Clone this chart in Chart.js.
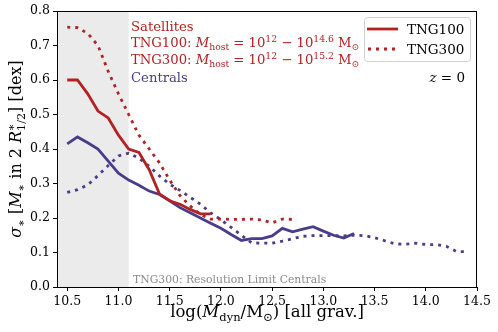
<!DOCTYPE html>
<html>
<head>
<meta charset="utf-8">
<script src="https://cdn.jsdelivr.net/npm/chart.js@4.4.0/dist/chart.umd.min.js"></script>
<style>
  html, body { margin: 0; padding: 0; background: #fff; }
</style>
</head>
<body>
<canvas id="chart" width="498" height="332"></canvas>
<script>
const SERIF = '"DejaVu Serif", serif';
const RED = '#b22222';
const BLUE = '#483d8b';

// satellites, TNG100
const sat100X = [10.5, 10.6, 10.7, 10.8, 10.9, 11.0, 11.1, 11.2, 11.3, 11.4, 11.5, 11.6, 11.7, 11.8, 11.9];
const sat100Y = [0.60, 0.60, 0.56, 0.51, 0.49, 0.44, 0.40, 0.39, 0.34, 0.27, 0.25, 0.24, 0.225, 0.212, 0.212];

// satellites, TNG300
const sat300X = [10.5, 10.6, 10.7, 10.8, 10.9, 11.0, 11.1, 11.2, 11.3, 11.4, 11.5, 11.6, 11.7, 11.8, 11.9,
                 12.0, 12.1, 12.2, 12.3, 12.4, 12.5, 12.6, 12.7];
const sat300Y = [0.753, 0.752, 0.735, 0.70, 0.625, 0.56, 0.50, 0.44, 0.40, 0.36, 0.31, 0.265, 0.235, 0.21, 0.197,
                 0.197, 0.196, 0.196, 0.197, 0.194, 0.186, 0.197, 0.196];

// centrals, TNG100
const cen100X = [10.5, 10.6, 10.7, 10.8, 10.9, 11.0, 11.1, 11.2, 11.3, 11.4, 11.5, 11.6, 11.7, 11.8, 11.9,
                 12.0, 12.1, 12.2, 12.3, 12.4, 12.5, 12.6, 12.7, 12.8, 12.9, 13.0, 13.1, 13.2, 13.3];
const cen100Y = [0.415, 0.435, 0.418, 0.40, 0.365, 0.33, 0.31, 0.295, 0.278, 0.268, 0.25, 0.23, 0.215, 0.20, 0.185,
                 0.17, 0.152, 0.135, 0.14, 0.14, 0.148, 0.17, 0.16, 0.168, 0.175, 0.162, 0.15, 0.142, 0.155];

// centrals, TNG300
const cen300X = [10.5, 10.6, 10.7, 10.8, 10.9, 11.0, 11.1, 11.2, 11.3, 11.4, 11.5, 11.6, 11.7, 11.8, 11.9,
                 12.0, 12.1, 12.2, 12.3, 12.4, 12.5, 12.6, 12.7, 12.8, 12.9, 13.0, 13.1, 13.2, 13.3, 13.4,
                 13.5, 13.6, 13.7, 13.8, 13.9, 14.0, 14.1, 14.2, 14.3, 14.4];
const cen300Y = [0.274, 0.282, 0.296, 0.323, 0.352, 0.38, 0.388, 0.373, 0.35, 0.322, 0.298, 0.28, 0.26, 0.24, 0.215,
                 0.195, 0.173, 0.15, 0.128, 0.127, 0.127, 0.133, 0.14, 0.147, 0.149, 0.149, 0.149, 0.148, 0.15, 0.149,
                 0.143, 0.134, 0.125, 0.124, 0.127, 0.123, 0.123, 0.118, 0.103, 0.102];

const xTicks = [10.5, 11.0, 11.5, 12.0, 12.5, 13.0, 13.5, 14.0, 14.5];
const yTicks = [0.0, 0.1, 0.2, 0.3, 0.4, 0.5, 0.6, 0.7, 0.8];
const resolutionLimit = 11.1;

function pts(xs, ys) {
    return xs.map((x, i) => ({ x: x, y: ys[i] }));
}

// --- small mathtext-like text drawing ---
function segFont(seg, size) {
    const sz = seg.s ? size * 0.7 : size;
    return (seg.i ? 'italic ' : '') + sz + 'px ' + SERIF;
}

function richWidth(ctx, segs, size) {
    let x = 0, prevStart = 0, prevW = 0;
    segs.forEach(seg => {
        ctx.font = segFont(seg, size);
        const w = ctx.measureText(seg.t).width;
        if (seg.back) {
            x = prevStart + Math.max(prevW, w);
        } else {
            prevStart = x; prevW = w; x += w;
        }
    });
    return x;
}

function drawRich(ctx, segs, x0, y, size, color, align) {
    let x = x0;
    if (align === 'center') x -= richWidth(ctx, segs, size) / 2;
    if (align === 'right') x -= richWidth(ctx, segs, size);
    ctx.save();
    ctx.fillStyle = color;
    ctx.textBaseline = 'alphabetic';
    ctx.textAlign = 'left';
    let prevStart = x, prevW = 0;
    segs.forEach(seg => {
        ctx.font = segFont(seg, size);
        const w = ctx.measureText(seg.t).width;
        let dy = 0;
        if (seg.s === 'sub') dy = size * 0.22;
        if (seg.s === 'sup') dy = -size * 0.4;
        if (seg.back) {
            ctx.fillText(seg.t, prevStart, y + dy);
            x = prevStart + Math.max(prevW, w);
        } else {
            ctx.fillText(seg.t, x, y + dy);
            prevStart = x; prevW = w; x += w;
        }
    });
    ctx.restore();
}

const yLabel = [
    { t: 'σ', i: true }, { t: '∗', s: 'sub' }, { t: ' [' }, { t: 'M', i: true }, { t: '∗', s: 'sub' },
    { t: ' in 2 ' }, { t: 'R', i: true }, { t: '∗', s: 'sup' }, { t: '1/2', s: 'sub', back: true },
    { t: '] [dex]' }
];
const xLabel = [
    { t: 'log(' }, { t: 'M', i: true }, { t: 'dyn', s: 'sub' }, { t: '/M' }, { t: '⊙', s: 'sub' },
    { t: ') [all grav.]' }
];
const host100 = [
    { t: 'TNG100: ' }, { t: 'M', i: true }, { t: 'host', s: 'sub' }, { t: ' = 10' }, { t: '12', s: 'sup' },
    { t: ' − 10' }, { t: '14.6', s: 'sup' }, { t: ' M' }, { t: '⊙', s: 'sub' }
];
const host300 = [
    { t: 'TNG300: ' }, { t: 'M', i: true }, { t: 'host', s: 'sub' }, { t: ' = 10' }, { t: '12', s: 'sup' },
    { t: ' − 10' }, { t: '15.2', s: 'sup' }, { t: ' M' }, { t: '⊙', s: 'sub' }
];

const shadePlugin = {
    id: 'shade',
    beforeDatasetsDraw(chart) {
        const { ctx, chartArea, scales } = chart;
        const xr = scales.x.getPixelForValue(resolutionLimit);
        ctx.save();
        ctx.fillStyle = '#ebebeb';
        ctx.fillRect(chartArea.left, chartArea.top, xr - chartArea.left, chartArea.bottom - chartArea.top);
        ctx.restore();
    }
};

const annotPlugin = {
    id: 'annot',
    afterDatasetsDraw(chart) {
        const { ctx, chartArea } = chart;
        ctx.save();
        // frame
        ctx.strokeStyle = '#000';
        ctx.lineWidth = 1;
        ctx.strokeRect(chartArea.left + 0.5, chartArea.top + 0.5,
                       chartArea.right - chartArea.left - 1, chartArea.bottom - chartArea.top);

        // texts in the plot
        drawRich(ctx, [{ t: 'Satellites' }], 131, 31, 13.2, RED);
        drawRich(ctx, host100, 131, 47, 13.2, RED);
        drawRich(ctx, host300, 131, 64, 13.2, RED);
        drawRich(ctx, [{ t: 'Centrals' }], 131, 82, 13.2, BLUE);
        drawRich(ctx, [{ t: 'z', i: true }, { t: ' = 0' }], 465, 82, 13.5, '#000', 'right');
        drawRich(ctx, [{ t: 'TNG300: Resolution Limit Centrals' }], 133, 283, 10.8, '#8a8a8a');

        // legend
        ctx.fillStyle = 'rgba(255,255,255,0.8)';
        ctx.strokeStyle = '#d0d0d0';
        ctx.beginPath();
        ctx.roundRect(364.5, 17.5, 106, 44, 3);
        ctx.fill();
        ctx.stroke();
        ctx.lineWidth = 2.8;
        ctx.strokeStyle = RED;
        ctx.beginPath();
        ctx.moveTo(367, 29); ctx.lineTo(398, 29);
        ctx.stroke();
        ctx.setLineDash([3, 5]);
        ctx.beginPath();
        ctx.moveTo(368, 49); ctx.lineTo(398, 49);
        ctx.stroke();
        ctx.setLineDash([]);
        drawRich(ctx, [{ t: 'TNG100' }], 407, 34, 13.5, '#000');
        drawRich(ctx, [{ t: 'TNG300' }], 407, 54, 13.5, '#000');

        // axis labels
        drawRich(ctx, xLabel, (chartArea.left + chartArea.right) / 2, 317, 16.5, '#000', 'center');
        ctx.translate(21, (chartArea.top + chartArea.bottom) / 2);
        ctx.rotate(-Math.PI / 2);
        drawRich(ctx, yLabel, 0, 0, 16, '#000', 'center');
        ctx.restore();
    }
};

const lineStyle = { borderWidth: 2.8, pointRadius: 0, tension: 0, fill: false };

new Chart(document.getElementById('chart'), {
    type: 'line',
    data: {
        datasets: [
            Object.assign({ label: 'Satellites TNG100', data: pts(sat100X, sat100Y), borderColor: RED }, lineStyle),
            Object.assign({ label: 'Satellites TNG300', data: pts(sat300X, sat300Y), borderColor: RED, borderDash: [3, 5] }, lineStyle),
            Object.assign({ label: 'Centrals TNG100', data: pts(cen100X, cen100Y), borderColor: BLUE }, lineStyle),
            Object.assign({ label: 'Centrals TNG300', data: pts(cen300X, cen300Y), borderColor: BLUE, borderDash: [3, 5] }, lineStyle)
        ]
    },
    options: {
        responsive: false,
        animation: false,
        devicePixelRatio: 1,
        layout: { padding: { left: 0, top: 11, right: 21, bottom: 0 } },
        plugins: {
            legend: { display: false },
            tooltip: { enabled: false }
        },
        scales: {
            x: {
                type: 'linear',
                min: 10.4,
                max: 14.5,
                afterBuildTicks: s => { s.ticks = xTicks.map(v => ({ value: v })); },
                afterFit: s => { s.height = 45; },
                border: { display: false },
                grid: { drawOnChartArea: false, drawTicks: true, tickLength: 4, color: '#000' },
                ticks: {
                    color: '#000',
                    padding: 3,
                    maxRotation: 0,
                    font: { family: SERIF, size: 12.5 },
                    callback: v => v.toFixed(1)
                }
            },
            y: {
                type: 'linear',
                min: 0,
                max: 0.8,
                afterBuildTicks: s => { s.ticks = yTicks.map(v => ({ value: v })); },
                afterFit: s => { s.width = 57; },
                border: { display: false },
                grid: { drawOnChartArea: false, drawTicks: true, tickLength: 4, color: '#000' },
                ticks: {
                    color: '#000',
                    padding: 3,
                    font: { family: SERIF, size: 12.5 },
                    callback: v => v.toFixed(1)
                }
            }
        }
    },
    plugins: [shadePlugin, annotPlugin]
});
</script>
</body>
</html>
